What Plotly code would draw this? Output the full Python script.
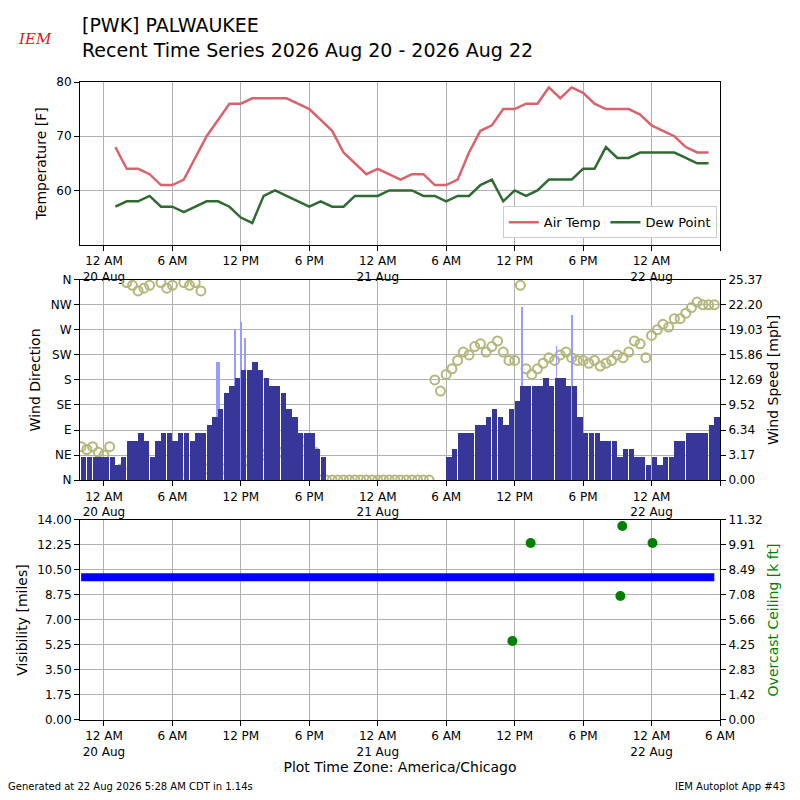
import pandas as pd
import plotly.graph_objects as go

# hourly temperature / dew point, 01:00 Aug 20 -> 05:00 Aug 22
temp_times = pd.date_range("2026-08-20 01:00", periods=53, freq="h")
air_temp = [68, 64, 64, 63, 61, 61, 62, 66, 70, 73,
            76, 76, 77, 77, 77, 77, 76, 75, 73, 71,
            67, 65, 63, 64, 63, 62, 63, 63, 61, 61,
            62, 67, 71, 72, 75, 75, 76, 76, 79, 77,
            79, 78, 76, 75, 75, 75, 74, 72, 71, 70,
            68, 67, 67]
dew_point = [57, 58, 58, 59, 57, 57, 56, 57, 58, 58,
             57, 55, 54, 59, 60, 59, 58, 57, 58, 57,
             57, 59, 59, 59, 60, 60, 60, 59, 59, 58,
             59, 59, 61, 62, 58, 60, 59, 60, 62, 62,
             62, 64, 64, 68, 66, 66, 67, 67, 67, 67,
             66, 65, 65]

# half-hourly wind, 22:00 Aug 19 -> 05:30 Aug 22
wind_times = pd.date_range("2026-08-19 22:00", periods=112, freq="30min")
wind_speed = [3, 3, 3, 3, 3, 3, 2, 3, 5, 5, 6, 5, 3, 5, 6, 6,
              5, 6, 6, 5, 6, 6, 7, 8, 9, 11, 12, 13, 14, 14, 15, 14,
              13, 12, 12, 11, 9, 8, 6, 6, 6, 4, 3, 0, 0, 0, 0, 0,
              0, 0, 0, 0, 0, 0, 0, 0, 0, 0, 0, 0, 0, 0, 0, 0,
              3, 4, 6, 6, 6, 7, 7, 8, 9, 8, 7, 9, 10, 12, 12, 12,
              12, 13, 12, 13, 13, 12, 12, 8, 6, 6, 6, 5, 5, 5, 3, 4,
              4, 3, 3, 2, 3, 2, 3, 3, 5, 5, 6, 6, 6, 6, 7, 8]
wind_dir = [60, 55, 60, 50, 45, 60, 10, 20, 355, 350, 340, 345, 350, 20, 355, 345,
            350, 10, 355, 350, 355, 340, 20, 30, 15, 20, 30, 45, 40, 35, 50, 55,
            45, 60, 55, 50, 60, 45, 55, 70, 60, 50, 0, 0, 0, 0, 0, 0,
            0, 0, 0, 0, 0, 0, 0, 0, 0, 0, 0, 0, 0, 0, 180, 160,
            190, 200, 215, 230, 225, 240, 245, 230, 240, 250, 230, 215, 215, 350, 200, 190,
            200, 210, 220, 215, 225, 230, 220, 215, 215, 210, 215, 205, 210, 215, 225, 220,
            230, 250, 245, 220, 260, 270, 280, 275, 290, 290, 300, 310, 320, 315, 315, 315]
gust_times = ["2026-08-20 10:00", "2026-08-20 11:30", "2026-08-20 12:00", "2026-08-20 12:20",
              "2026-08-21 12:40", "2026-08-21 15:40", "2026-08-21 17:00"]
gust_speed = [15, 19, 20, 18, 22, 17, 21]

vis_times = pd.date_range("2026-08-19 22:00", "2026-08-22 05:30", freq="30min")
visibility = [10.0] * len(vis_times)
ceil_times = ["2026-08-21 11:48", "2026-08-21 13:24", "2026-08-21 21:16",
              "2026-08-21 21:26", "2026-08-22 00:05"]
ceiling = [4.47, 10.02, 7.02, 10.98, 10.02]

xr = ["2026-08-19 21:54", "2026-08-22 06:00"]
ticks = pd.date_range("2026-08-20 00:00", "2026-08-22 06:00", freq="6h")
ticktext = []
for t in ticks:
    lab = t.strftime("%I %p").lstrip("0")
    if t.hour == 0:
        lab += "<br>" + t.strftime("%d %b")
    ticktext.append(lab)

fig = go.Figure()
fig.add_trace(go.Scatter(x=temp_times, y=air_temp, mode="lines", name="Air Temp",
                         line=dict(color="#d9626b", width=2.5), xaxis="x", yaxis="y"))
fig.add_trace(go.Scatter(x=temp_times, y=dew_point, mode="lines", name="Dew Point",
                         line=dict(color="#2f6a31", width=2.5), xaxis="x", yaxis="y"))

fig.add_trace(go.Bar(x=pd.to_datetime(gust_times), y=gust_speed, width=[20 * 60000] + [5 * 60000] * 6,
                     marker=dict(color="#9a9aff", line_width=0), showlegend=False,
                     xaxis="x2", yaxis="y3"))
fig.add_trace(go.Bar(x=wind_times, y=wind_speed, width=28 * 60000, offset=0,
                     marker=dict(color="#373799", line_width=0), showlegend=False,
                     xaxis="x2", yaxis="y3"))
fig.add_trace(go.Scatter(x=wind_times, y=wind_dir, mode="markers", showlegend=False,
                         marker=dict(symbol="circle-open", size=9, color="#b5b77a",
                                     line=dict(width=2, color="#b5b77a")),
                         xaxis="x2", yaxis="y2"))

fig.add_trace(go.Scatter(x=vis_times, y=visibility, mode="lines", showlegend=False,
                         line=dict(color="blue", width=8), xaxis="x3", yaxis="y4"))
fig.add_trace(go.Scatter(x=ceil_times, y=ceiling, mode="markers", showlegend=False,
                         marker=dict(color="green", size=10), xaxis="x3", yaxis="y5"))

axcommon = dict(showline=True, linecolor="black", mirror=True, showgrid=True, automargin=False,
                gridcolor="#b0b0b0", ticks="outside", tickcolor="black", zeroline=False)
xcommon = dict(axcommon, type="date", range=xr, tickvals=ticks, ticktext=ticktext)

mid_dirs = ["N", "NE", "E", "SE", "S", "SW", "W", "NW", "N"]
spd_ticks = [0, 3.17, 6.34, 9.52, 12.69, 15.86, 19.03, 22.20, 25.37]
vis_ticks = [0, 1.75, 3.5, 5.25, 7.0, 8.75, 10.5, 12.25, 14.0]
ceil_ticks = [0, 1.42, 2.83, 4.25, 5.66, 7.08, 8.49, 9.91, 11.32]

fig.update_layout(
    width=784, height=784, plot_bgcolor="white", paper_bgcolor="white",
    font=dict(family="DejaVu Sans", size=12, color="black"),
    margin=dict(l=72, r=72, t=74, b=72), barmode="overlay", bargap=0,
    xaxis=dict(xcommon, domain=[0, 1], anchor="y", ticktext=ticktext[:-1] + [""]),
    xaxis2=dict(xcommon, domain=[0, 1], anchor="y2", ticktext=ticktext[:-1] + [""]),
    xaxis3=dict(xcommon, domain=[0, 1], anchor="y4",
                title=dict(text="Plot Time Zone: America/Chicago", standoff=4)),
    yaxis=dict(axcommon, domain=[0.745, 1], range=[50, 80], tickvals=[60, 70, 80],
               title=dict(text="Temperature [F]", standoff=6)),
    yaxis2=dict(axcommon, domain=[0.376, 0.69], range=[0, 360],
                tickvals=list(range(0, 361, 45)), ticktext=mid_dirs,
                title=dict(text="Wind Direction", standoff=6)),
    yaxis3=dict(axcommon, overlaying="y2", side="right", range=[0, 25.37], showgrid=False,
                tickvals=spd_ticks, ticktext=["%.2f" % v for v in spd_ticks],
                anchor="x2", title=dict(text="Wind Speed [mph]", standoff=6)),
    yaxis4=dict(axcommon, domain=[0, 0.3135], range=[0, 14], tickvals=vis_ticks,
                ticktext=["%.2f" % v for v in vis_ticks],
                title=dict(text="Visibility [miles]", standoff=6)),
    yaxis5=dict(axcommon, overlaying="y4", side="right", range=[0, 11.32], showgrid=False,
                tickvals=ceil_ticks, ticktext=["%.2f" % v for v in ceil_ticks], anchor="x3",
                title=dict(text="Overcast Ceiling [k ft]", standoff=6, font=dict(color="green"))),
    legend=dict(orientation="h", x=0.995, y=0.755, xanchor="right", yanchor="bottom",
                bordercolor="#cccccc", borderwidth=1, bgcolor="white", font=dict(size=13)),
)
fig.add_annotation(text="[PWK] PALWAUKEE<br>Recent Time Series 2026 Aug 20 - 2026 Aug 22",
                   xref="paper", yref="paper", x=-0.0, y=1.03, xanchor="left", yanchor="bottom",
                   align="left", showarrow=False, font=dict(size=19))
fig.add_annotation(text="<i>IEM</i>", xref="paper", yref="paper", x=-0.1, y=1.05,
                   xanchor="left", yanchor="bottom", showarrow=False,
                   font=dict(size=15, color="#cc2222", family="DejaVu Serif"))
fig.add_annotation(text="Generated at 22 Aug 2026 5:28 AM CDT in 1.14s", xref="paper", yref="paper",
                   x=-0.115, y=-0.105, xanchor="left", yanchor="middle", showarrow=False,
                   font=dict(size=10))
fig.add_annotation(text="IEM Autoplot App #43", xref="paper", yref="paper",
                   x=1.105, y=-0.105, xanchor="right", yanchor="middle", showarrow=False,
                   font=dict(size=10))
fig.write_html("out.html")
